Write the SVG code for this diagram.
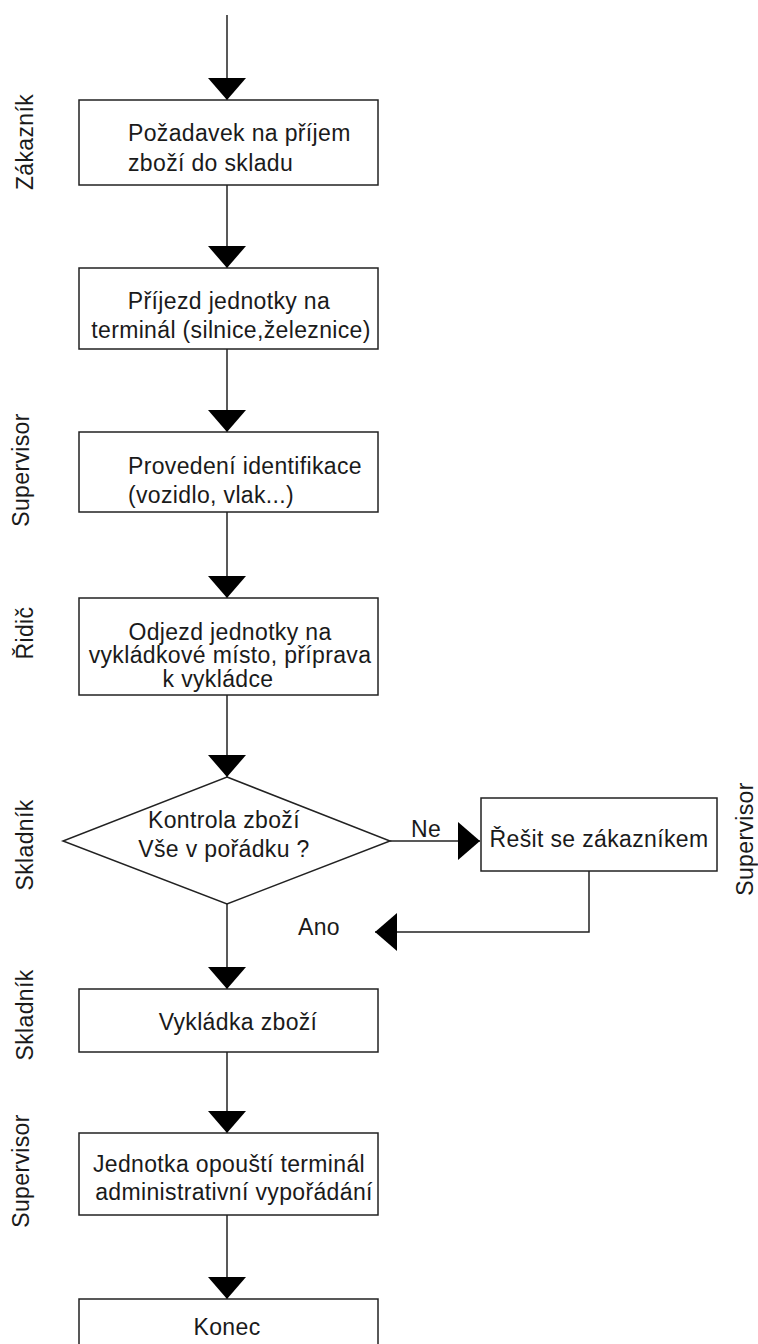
<svg xmlns="http://www.w3.org/2000/svg" width="758" height="1344" viewBox="0 0 758 1344">
<style>
.box{fill:#fff;stroke:#222;stroke-width:1.5}
.ln{fill:none;stroke:#222;stroke-width:1.5}
.t{font-family:"Liberation Sans",Arial,sans-serif;font-size:23px;letter-spacing:0.35px;fill:#1a1a1a}
.c{text-anchor:middle}
</style>
<defs>
<marker id="ah" viewBox="0 0 22 38" markerWidth="22" markerHeight="38" refX="22" refY="19" orient="auto" markerUnits="userSpaceOnUse">
<path d="M0,0 L22,19 L0,38 Z" fill="#000"/>
</marker>
</defs>
<g id="connectors">
<path class="ln" d="M227,15 V100" marker-end="url(#ah)"/>
<path class="ln" d="M227,185 V268" marker-end="url(#ah)"/>
<path class="ln" d="M227,349 V432" marker-end="url(#ah)"/>
<path class="ln" d="M227,512 V598" marker-end="url(#ah)"/>
<path class="ln" d="M227,695 V777" marker-end="url(#ah)"/>
<path class="ln" d="M390,841 H480" marker-end="url(#ah)"/>
<path class="ln" d="M589,871 V932 H375" marker-end="url(#ah)"/>
<path class="ln" d="M227,904 V989" marker-end="url(#ah)"/>
<path class="ln" d="M227,1052 V1133" marker-end="url(#ah)"/>
<path class="ln" d="M227,1215 V1299" marker-end="url(#ah)"/>
<text class="t" x="411" y="837">Ne</text>
<text class="t" x="298" y="935">Ano</text>
</g>
<g id="lanes">
<text class="t c" transform="translate(33,142) rotate(-90)">Zákazník</text>
<text class="t c" transform="translate(29,470) rotate(-90)">Supervisor</text>
<text class="t c" transform="translate(33,633) rotate(-90)">Řidič</text>
<text class="t c" transform="translate(33,845) rotate(-90)">Skladník</text>
<text class="t c" transform="translate(33,1015) rotate(-90)">Skladník</text>
<text class="t c" transform="translate(29,1171) rotate(-90)">Supervisor</text>
<text class="t c" transform="translate(753,839) rotate(-90)">Supervisor</text>
</g>
<g id="n1">
<rect class="box" x="79" y="100" width="299" height="85"/>
<text class="t" x="128" y="141">Požadavek na příjem</text>
<text class="t" x="128" y="171">zboží do skladu</text>
</g>
<g id="n2">
<rect class="box" x="79" y="268" width="299" height="81"/>
<text class="t c" x="229" y="309">Příjezd jednotky na</text>
<text class="t c" x="231" y="338">terminál (silnice,železnice)</text>
</g>
<g id="n3">
<rect class="box" x="79" y="432" width="299" height="80"/>
<text class="t" x="128" y="474">Provedení identifikace</text>
<text class="t" x="128" y="503">(vozidlo, vlak...)</text>
</g>
<g id="n4">
<rect class="box" x="79" y="598" width="299" height="97"/>
<text class="t c" x="230" y="640">Odjezd jednotky na</text>
<text class="t c" x="230" y="663">vykládkové místo, příprava</text>
<text class="t c" x="218" y="687">k vykládce</text>
</g>
<g id="n5">
<polygon class="box" points="227,777 390,841 227,904 63,841"/>
<text class="t c" x="224" y="828">Kontrola zboží</text>
<text class="t c" x="224" y="857">Vše v pořádku ?</text>
</g>
<g id="n6">
<rect class="box" x="481" y="798" width="236" height="73"/>
<text class="t c" x="599" y="847">Řešit se zákazníkem</text>
</g>
<g id="n7">
<rect class="box" x="79" y="989" width="299" height="63"/>
<text class="t c" x="238" y="1030">Vykládka zboží</text>
</g>
<g id="n8">
<rect class="box" x="79" y="1133" width="299" height="82"/>
<text class="t c" x="229" y="1172">Jednotka opouští terminál</text>
<text class="t c" x="234" y="1200">administrativní vypořádání</text>
</g>
<g id="n9">
<rect class="box" x="79" y="1299" width="299" height="60"/>
<text class="t c" x="227" y="1335">Konec</text>
</g>
</svg>
